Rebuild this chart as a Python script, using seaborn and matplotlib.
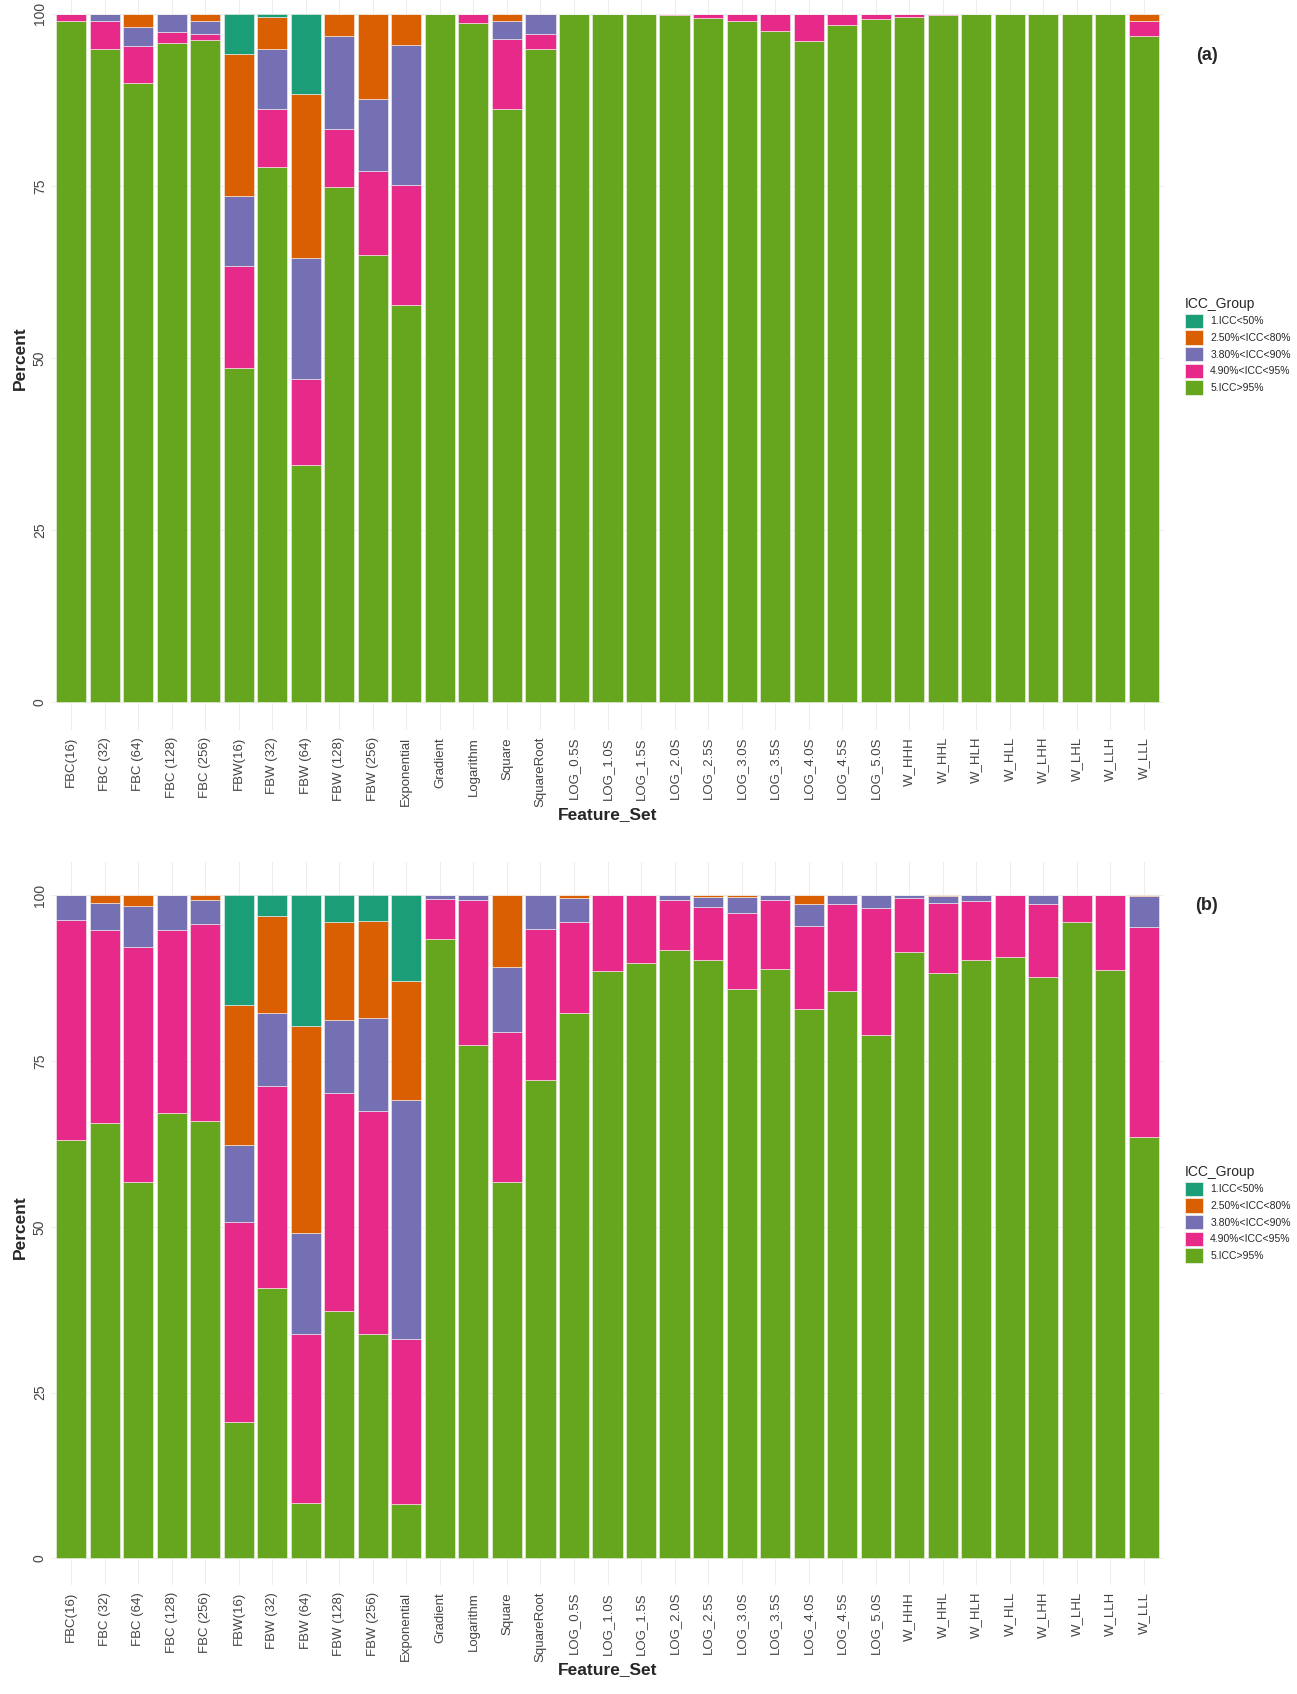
import pandas as pd
import numpy as np
import matplotlib
matplotlib.use("Agg")
import matplotlib.pyplot as plt
import matplotlib.patches as mpatches
import seaborn as sns

# ------------------------------------------
# Data (percent of features per ICC group)
# ------------------------------------------

feature_sets = [
    "FBC(16)", "FBC (32)", "FBC (64)", "FBC (128)", "FBC (256)",
    "FBW(16)", "FBW (32)", "FBW (64)", "FBW (128)", "FBW (256)",
    "Exponential", "Gradient", "Logarithm", "Square", "SquareRoot",
    "LOG_0.5S", "LOG_1.0S", "LOG_1.5S", "LOG_2.0S", "LOG_2.5S",
    "LOG_3.0S", "LOG_3.5S", "LOG_4.0S", "LOG_4.5S", "LOG_5.0S",
    "W_HHH", "W_HHL", "W_HLH", "W_HLL", "W_LHH", "W_LHL", "W_LLH", "W_LLL",
]

icc_groups = ["1.ICC<50%", "2.50%<ICC<80%", "3.80%<ICC<90%",
              "4.90%<ICC<95%", "5.ICC>95%"]
icc_colors = ["#1B9E77", "#D95F02", "#7570B3", "#E7298A", "#66A61E"]

# panel (a)
a_lt50 = [0, 0, 0, 0, 0, 5.8, 0.5, 11.6, 0, 0, 0, 0, 0, 0, 0,
          0, 0, 0, 0, 0, 0, 0, 0, 0, 0, 0, 0, 0, 0, 0, 0, 0, 0]
a_50_80 = [0, 0, 1.9, 0, 1.1, 20.6, 4.6, 23.8, 3.2, 12.4, 4.5, 0, 0, 1.0, 0,
           0, 0, 0, 0, 0, 0, 0, 0, 0, 0, 0, 0, 0, 0, 0, 0, 0, 1.0]
a_80_90 = [0, 1.0, 2.8, 2.7, 1.9, 10.2, 8.7, 17.7, 13.5, 10.4, 20.3, 0, 0, 2.6, 3.0,
           0, 0, 0, 0, 0, 0, 0, 0, 0, 0, 0, 0, 0, 0, 0, 0, 0, 0]
a_90_95 = [1.1, 4.1, 5.4, 1.6, 0.8, 14.8, 8.5, 12.4, 8.4, 12.3, 17.5, 0, 1.3, 10.2, 2.1,
           0, 0, 0, 0.25, 0.6, 1.0, 2.5, 3.9, 1.7, 0.8, 0.45, 0.2, 0, 0, 0, 0, 0, 2.2]
a_gt95 = [98.9, 94.9, 89.9, 95.7, 96.2, 48.6, 77.7, 34.5, 74.9, 64.9, 57.7, 100, 98.7, 86.2, 94.9,
          100, 100, 100, 99.75, 99.4, 99.0, 97.5, 96.1, 98.3, 99.2, 99.55, 99.8, 100, 100, 100, 100, 100, 96.8]

# panel (b)
b_lt50 = [0, 0, 0, 0, 0, 16.5, 3.2, 19.7, 4.1, 3.9, 12.9, 0, 0, 0, 0,
          0, 0, 0, 0, 0, 0, 0, 0, 0, 0, 0, 0, 0, 0, 0, 0, 0, 0]
b_50_80 = [0, 1.2, 1.6, 0, 0.7, 21.2, 14.5, 31.3, 14.7, 14.6, 18.0, 0, 0, 10.8, 0,
           0.5, 0, 0, 0, 0.3, 0.3, 0, 1.4, 0, 0, 0, 0.1, 0, 0, 0, 0, 0, 0.1]
b_80_90 = [3.8, 4.0, 6.2, 5.3, 3.7, 11.5, 11.1, 15.1, 11.1, 14.0, 36.0, 0.6, 0.8, 9.9, 5.1,
           3.5, 0, 0, 0.7, 1.5, 2.4, 0.8, 3.2, 1.3, 1.9, 0.4, 1.1, 0.9, 0, 1.4, 0, 0, 4.7]
b_90_95 = [33.1, 29.2, 35.5, 27.5, 29.6, 30.2, 30.4, 25.5, 32.8, 33.6, 24.9, 6.0, 21.8, 22.5, 22.7,
           13.7, 11.5, 10.3, 7.6, 8.0, 11.5, 10.4, 12.5, 13.2, 19.2, 8.1, 10.6, 8.8, 9.3, 11.0, 4.0, 11.3, 31.7]
b_gt95 = [63.1, 65.6, 56.7, 67.2, 66.0, 20.6, 40.8, 8.4, 37.3, 33.9, 8.2, 93.4, 77.4, 56.8, 72.2,
          82.3, 88.5, 89.7, 91.7, 90.2, 85.8, 88.8, 82.9, 85.5, 78.9, 91.5, 88.2, 90.3, 90.7, 87.6, 96.0, 88.7, 63.5]


def long_table(series_list):
    rows = []
    for i, fs in enumerate(feature_sets):
        for g, vals in zip(icc_groups, series_list):
            rows.append((fs, g, vals[i]))
    return pd.DataFrame(rows, columns=["Feature_Set", "ICC_Group", "Percent"])


df_a = long_table([a_lt50, a_50_80, a_80_90, a_90_95, a_gt95])
df_b = long_table([b_lt50, b_50_80, b_80_90, b_90_95, b_gt95])

# ------------------------------------------
# Style
# ------------------------------------------

sns.set_style("white")
plt.rcParams['font.family'] = ['Liberation Sans', 'DejaVu Sans']

W, H = 1297, 1694
fig = plt.figure(figsize=(W / 100, H / 100), dpi=100)

panels = [
    # data, top px, bottom px, ylim top, tag, tag y, legend top
    (df_a, 0.0, 730.0, 102, "(a)", 55, 292),
    (df_b, 862.0, 1585.0, 105, "(b)", 905, 1160),
]

for df, top, bottom, ytop, tag, tag_y, leg_top in panels:
    ax = fig.add_axes([51 / W, 1 - bottom / H, 1113 / W, (bottom - top) / H])

    # light grid under the bars
    for xpos in range(len(feature_sets)):
        ax.axvline(xpos, color="#EEEEEE", lw=0.8, zorder=0)
    for ypos in [0, 25, 50, 75, 100]:
        ax.axhline(ypos, color="#EEEEEE", lw=0.8, zorder=0)

    sns.histplot(
        data=df,
        x="Feature_Set",
        hue="ICC_Group",
        weights="Percent",
        hue_order=icc_groups,
        palette=icc_colors,
        multiple="stack",
        discrete=True,
        shrink=0.9,
        alpha=1,
        edgecolor="#F4F4F0",
        linewidth=0.4,
        legend=False,
        ax=ax,
        zorder=2,
    )

    ax.set_xlim(-0.6, len(feature_sets) - 0.4)
    ax.set_ylim(-4, ytop)
    ax.set_xticks(range(len(feature_sets)))
    ax.set_xticklabels(feature_sets, rotation=90, fontsize=9.5, color="#444444")
    ax.set_yticks([0, 25, 50, 75, 100])
    ax.set_yticklabels(["0", "25", "50", "75", "100"], rotation=90,
                       fontsize=10, color="#444444", va="center")
    ax.tick_params(axis="both", length=0)
    ax.tick_params(axis="x", pad=5)
    ax.tick_params(axis="y", pad=3)
    for s in ax.spines.values():
        s.set_visible(False)

    ax.set_xlabel("Feature_Set", fontsize=12.5, fontweight="bold", labelpad=0)
    ax.set_ylabel("Percent", fontsize=12.5, fontweight="bold")
    ax.yaxis.set_label_coords(-0.021, (50 + 4) / (ytop + 4))

    fig.text(1207 / W, 1 - tag_y / H, tag, fontsize=13, fontweight="bold",
             ha="center", va="center")

    handles = [mpatches.Patch(facecolor=c, edgecolor="#F4F4F0", lw=0.5)
               for c in icc_colors]
    leg = ax.legend(
        handles, icc_groups, title="ICC_Group",
        loc="upper left", bbox_to_anchor=(1180 / W, 1 - leg_top / H),
        bbox_transform=fig.transFigure, frameon=False,
        fontsize=7.5, title_fontsize=10,
        handlelength=1.7, handleheight=1.7,
        labelspacing=0.25, handletextpad=0.7, borderpad=0,
    )
    leg._legend_box.align = "left"

fig.savefig("out.png", dpi=100, facecolor="white")
